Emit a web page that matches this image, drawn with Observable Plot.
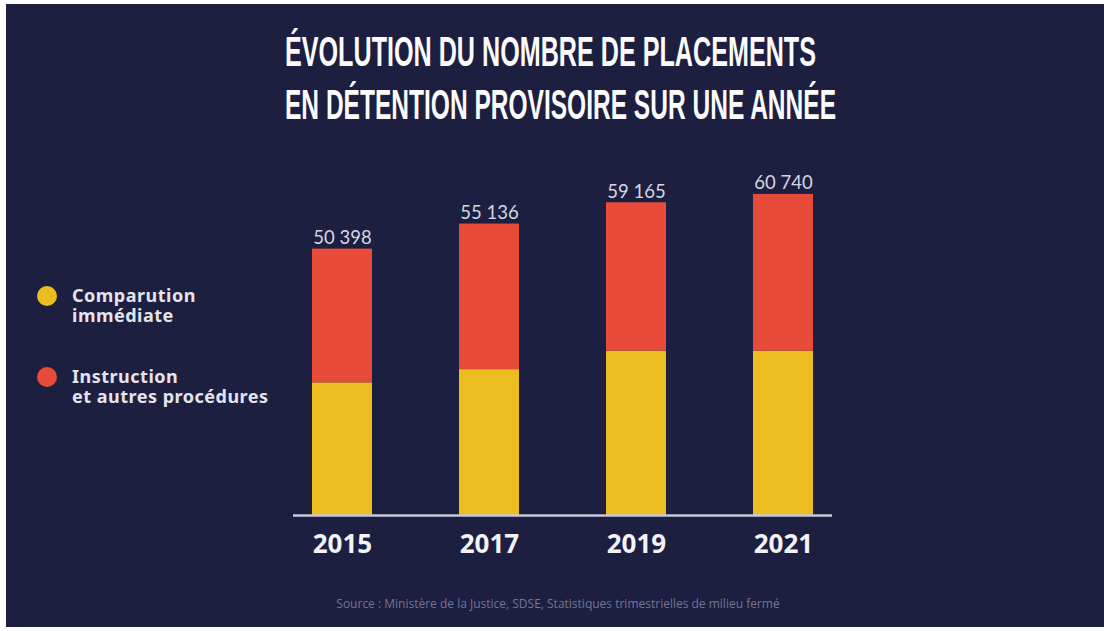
<!DOCTYPE html>
<html>
<head>
<meta charset="utf-8">
<script src="https://cdn.jsdelivr.net/npm/d3@7"></script>
<script src="https://cdn.jsdelivr.net/npm/@observablehq/plot@0.6"></script>
<style>
  html, body { margin: 0; padding: 0; background: #ffffff; }
  body { width: 1104px; height: 631px; position: relative; overflow: hidden; }
  #frame { position: absolute; left: 6px; top: 4px; width: 1098px; height: 623px; background: #1d1f40; }
  .abs { position: absolute; white-space: nowrap; }
  .title { font-family: "Liberation Sans Narrow", "Liberation Sans", sans-serif; font-weight: 700; font-size: 42px; line-height: 42px; color: #fbfbfd; left: 285px; transform-origin: 0 0; }
  .leg { font-family: "Noto Sans", sans-serif; font-weight: 700; font-size: 18px; line-height: 20px; color: #e4e4ec; left: 72px; letter-spacing: 0.5px; }
  .dot { position: absolute; width: 20px; height: 20px; border-radius: 50%; }
  #source { font-family: "Open Sans", sans-serif; font-size: 12px; line-height: 12px; color: #727493; left: 0; width: 1116px; text-align: center; top: 598px; }
  #chart { position: absolute; left: 0; top: 130px; }
</style>
</head>
<body>
<div id="frame"></div>
<div class="abs title" id="t1" style="top:31px">ÉVOLUTION DU NOMBRE DE PLACEMENTS</div>
<div class="abs title" id="t2" style="top:84px">EN DÉTENTION PROVISOIRE SUR UNE ANNÉE</div>

<div class="dot" style="left:37px; top:286px; background:#ebbd1e"></div>
<div class="abs leg" style="top:285px">Comparution</div>
<div class="abs leg" style="top:305px">immédiate</div>
<div class="dot" style="left:37px; top:367px; background:#e84b3a"></div>
<div class="abs leg" style="top:366px">Instruction</div>
<div class="abs leg" style="top:386px">et autres procédures</div>

<div id="chart"></div>
<div class="abs" id="source">Source : Ministère de la Justice, SDSE, Statistiques trimestrielles de milieu fermé</div>

<script>
const years = ["2015", "2017", "2019", "2021"];
const totals = [50398, 55136, 59165, 60740];
const comparution = [25100, 27600, 31100, 31100];
const seriesNames = ["Comparution immédiate", "Instruction et autres procédures"];
const seriesColors = ["#ebbd1e", "#e84b3a"];

const rows = [];
years.forEach((y, i) => {
  rows.push({year: y, series: seriesNames[0], value: comparution[i]});
  rows.push({year: y, series: seriesNames[1], value: totals[i] - comparution[i]});
});
const totalRows = years.map((y, i) => ({year: y, total: totals[i]}));
const fmt = v => d3.format(",")(v).replace(/,/g, " ");

const chart = Plot.plot({
  width: 1104,
  height: 440,
  marginLeft: 293,
  marginRight: 272,
  marginTop: 15,
  marginBottom: 55,
  style: {background: "transparent", color: "#f2f2f7", overflow: "visible"},
  x: {domain: years, paddingInner: 0.59, paddingOuter: 0.126, label: null},
  y: {domain: [0, 70000], axis: null},
  color: {domain: seriesNames, range: seriesColors},
  marks: [
    Plot.barY(rows, {x: "year", y: "value", fill: "series", order: seriesNames}),
    Plot.ruleY([0], {stroke: "#c8c8dc", strokeWidth: 2.5}),
    Plot.text(totalRows, {x: "year", y: "total", text: d => fmt(d.total), dy: -5, lineAnchor: "bottom",
      fontSize: 18.5, fill: "#d6d6e2", fontFamily: "Lato, sans-serif"}),
    Plot.axisX({tickSize: 0, tickPadding: 19, fontSize: 26, fontWeight: "bold",
      fontFamily: "'Noto Sans', sans-serif", fill: "#f2f2f7", label: null})
  ]
});
document.getElementById("chart").appendChild(chart);

// fit title lines to the reference widths (condensed display face)
function fit(id, target) {
  const el = document.getElementById(id);
  const w = el.getBoundingClientRect().width;
  el.style.transform = `scaleX(${target / w})`;
}
fit("t1", 531);
fit("t2", 551);
</script>
</body>
</html>
